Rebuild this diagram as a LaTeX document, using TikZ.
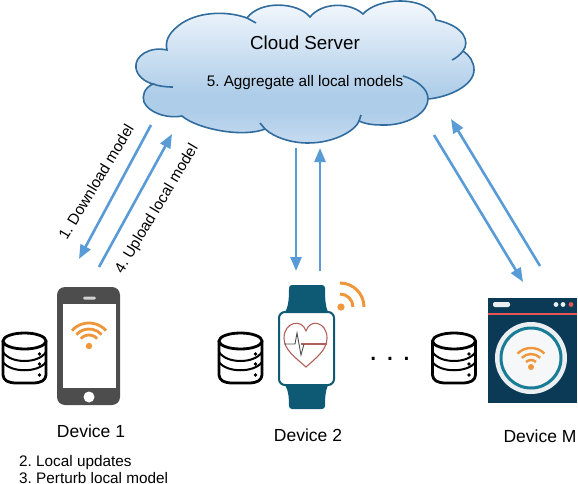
\documentclass[tikz,border=0pt]{standalone}
\usepackage{fontspec}
\setmainfont{Liberation Sans}
\frenchspacing
\usetikzlibrary{arrows.meta,positioning}
\definecolor{flowblue}{RGB}{88,155,214}
\definecolor{cloudline}{RGB}{48,108,158}
\definecolor{cloudtop}{RGB}{244,248,253}
\definecolor{cloudmid}{RGB}{174,205,233}
\definecolor{cloudlow}{RGB}{198,219,240}
\definecolor{wifiorange}{RGB}{240,150,58}
\definecolor{phonegray}{RGB}{77,77,77}
\definecolor{watchteal}{RGB}{14,90,116}
\definecolor{heartred}{RGB}{178,96,90}
\definecolor{washnavy}{RGB}{11,58,86}
\definecolor{washteal}{RGB}{24,124,150}
\definecolor{washred}{RGB}{232,84,84}
\pgfdeclareverticalshading{cloudfill}{100bp}{color(0bp)=(cloudlow); color(25bp)=(cloudlow); color(36bp)=(cloudmid); color(42bp)=(cloudmid); color(75bp)=(cloudtop); color(100bp)=(cloudtop)}
\tikzset{
  dbstack/.pic={
    \draw[line width=2.8pt,fill=white,rounded corners=4pt] (-21.5,-17) -- (-21.5,21) -- (-14,25) -- (14,25) -- (21.5,21) -- (21.5,-17);
    \draw[line width=2.8pt,fill=white] (0,-17) ellipse (21.5 and 8);
    \draw[line width=2pt] (-21.5,-6) .. controls (-14,6) and (14,6) .. (21.5,-6);
    \draw[line width=2pt] (-21.5,4) .. controls (-14,15) and (14,15) .. (21.5,4);
    \foreach \dy in {-4,6,17} \fill (15,\dy) circle (1.8);
  }
}
\begin{document}
\begin{tikzpicture}[x=1pt,y=-1pt,
  flow/.style={-{Triangle[length=14pt,width=11pt]},flowblue,line width=2.6pt},
  lbl/.style={inner sep=0pt,anchor=base,font=\fontsize{15.3}{18}\selectfont},
  devlbl/.style={inner sep=0pt,anchor=base,font=\fontsize{17.5}{20}\selectfont},
  wifiarc/.style={wifiorange,line width=2.8pt},
  cloudedge/.style={cloudline,line width=1.6pt}]
  \useasboundingbox (0,0) rectangle (578,484);
  % cloud
  \shadedraw[shading=cloudfill,cloudedge] (167,50) .. controls (150,46) and (134,56) .. (136,68)
    .. controls (137,76) and (145,82) .. (153,84) .. controls (144,88) and (142,96) .. (144,102)
    .. controls (148,112) and (166,119) .. (182,116) .. controls (197,129) and (243,138) .. (265,129)
    .. controls (275,138) and (292,143) .. (308,143) .. controls (335,143) and (356,130) .. (359,121)
    .. controls (368,125) and (376,125) .. (387,125) .. controls (410,124) and (428,112) .. (428,99)
    .. controls (450,97) and (474,85) .. (474,70) .. controls (474,62) and (470,56) .. (463,51)
    .. controls (470,42) and (465,26) .. (436,20) .. controls (434,8) and (418,1) .. (400,1)
    .. controls (385,1) and (370,6) .. (363,14) .. controls (350,2) and (322,2) .. (310,17)
    .. controls (298,2) and (260,0) .. (247,18) .. controls (225,10) and (195,12) .. (178,26)
    .. controls (168,34) and (165,42) .. (167,50) -- cycle;
  \draw[cloudedge] (153,84) .. controls (158,86) and (165,87) .. (173,87);
  \draw[cloudedge] (260,123) -- (265,129);
  \draw[cloudedge] (359,121) -- (361,115);
  \draw[cloudedge] (428,99) .. controls (428,88) and (416,80) .. (403,76);
  \draw[cloudedge] (463,51) .. controls (460,55) and (456,58) .. (452,60);
  \draw[cloudedge] (247,18) -- (256,23);
  \node[inner sep=0pt,anchor=base,font=\fontsize{18.8}{22}\selectfont] (cloud) at (305,50) {Cloud Server};
  \node[lbl] (aggregate) at (305,87) {5. Aggregate all local models};
  % connector ends
  \coordinate (cloudA) at (151,125); \coordinate (devA) at (79,259);
  \coordinate (devAup) at (99,267); \coordinate (cloudAup) at (172,134);
  \coordinate (cloudB) at (296,148); \coordinate (devB) at (296,271);
  \coordinate (devBup) at (320,271); \coordinate (cloudBup) at (320,148);
  \coordinate (cloudM) at (434,135); \coordinate (devM) at (523,282);
  \coordinate (devMup) at (540,266); \coordinate (cloudMup) at (451,119);
  \draw[flow] (cloudA) -- (devA);
  \draw[flow] (devAup) -- (cloudAup);
  \draw[flow] (cloudB) -- (devB);
  \draw[flow] (devBup) -- (cloudBup);
  \draw[flow] (cloudM) -- (devM);
  \draw[flow] (devMup) -- (cloudMup);
  \node[lbl,anchor=center,rotate=59] (download) at (96,182) {1. Download model};
  \node[lbl,anchor=center,rotate=59] (upload) at (157,209) {4. Upload local model};
  % phone
  \fill[phonegray,rounded corners=8pt] (57,287) rectangle (120,405);
  \fill[white] (63,304) rectangle (116,388);
  \fill[white!75!phonegray,rounded corners=1.5pt] (83,296.5) rectangle (96,299.5);
  \fill[white] (89,397) circle (5.5);
  \fill[wifiorange] (89,346) circle (3.2);
  \foreach \r in {11,17,23} \draw[wifiarc] (89,346) ++(-138:\r) arc (-138:-42:\r);
  \pic (dbA) at (24.5,358) {dbstack};
  \node[devlbl] (deviceA) at (91,437) {Device 1};
  \node[lbl,anchor=base west] (stepA) at (19,466) {2. Local updates};
  \node[lbl,anchor=base west] (stepB) at (19,483) {3. Perturb local model};
  % watch
  \fill[watchteal,rounded corners=3pt] (284,314) .. controls (289,305) and (289,295) .. (289,285) -- (325,285) .. controls (325,295) and (325,305) .. (329,314) -- cycle;
  \fill[watchteal,rounded corners=3pt] (284,383) .. controls (289,392) and (289,400) .. (289,409) -- (325,409) .. controls (325,400) and (325,392) .. (329,383) -- cycle;
  \draw[watchteal,fill=white,line width=2pt,rounded corners=6pt] (279,312) rectangle (334,385);
  \draw[heartred,line width=1.1pt] (306,367) .. controls (296,358) and (284,350) .. (284,338) .. controls (284,322) and (302,318) .. (306,331) .. controls (310,318) and (327,322) .. (327,338) .. controls (327,350) and (316,358) .. (306,367) -- cycle;
  \draw[heartred,line width=1.1pt] (301,344) -- (327,344);
  \draw[phonegray,line width=0.9pt] (284,344) -- (295,344) -- (297,333) -- (301,355) -- (304,344);
  \fill[wifiorange] (341,307) circle (3.6);
  \foreach \r in {13,24} \draw[wifiarc,line width=3pt] (340,307) ++(-90:\r) arc (-90:0:\r);
  \pic (dbB) at (240.5,358) {dbstack};
  \node[devlbl] (deviceB) at (308,441) {Device 2};
  \node[inner sep=0pt,anchor=base,font=\fontsize{30}{32}\selectfont] (dots) at (390,360) {. . .};
  % washer
  \fill[washnavy] (488,298) rectangle (577,403);
  \fill[washred] (488,313) rectangle (577,315);
  \fill[white!92!washnavy,rounded corners=2pt] (493,302) rectangle (510,307);
  \fill[white!92!washnavy] (556,304.5) circle (2.4) (563,304.5) circle (2.4);
  \fill[washred] (571,304.5) circle (2.4);
  \fill[white!92!washnavy] (531,358) circle (36);
  \draw[washteal,line width=3pt,fill=white!96!washnavy] (531,358) circle (30);
  \fill[wifiorange] (531,367) circle (3);
  \foreach \r in {7,13,19} \draw[wifiarc,line width=2.4pt] (531,367) ++(-135:\r) arc (-135:-45:\r);
  \pic (dbM) at (454,358) {dbstack};
  \node[devlbl] (deviceM) at (540,442) {Device M};
\end{tikzpicture}
\end{document}
